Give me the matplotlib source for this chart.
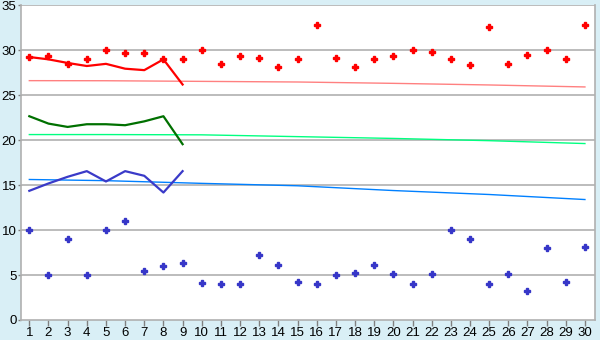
import matplotlib.pyplot as plt
import numpy as np

days = list(range(1, 31))

red_points = [29.26, 29.4, 28.5, 29.0, 30.07, 29.67, 29.74, 29.0, 29.0, 30.0,
              28.5, 29.4, 29.2, 28.2, 29.0, 32.85, 29.2, 28.2, 29.0, 29.4,
              30.0, 29.85, 29.0, 28.4, 32.6, 28.5, 29.5, 30.0, 29.0, 32.85]
blue_points = [10.0, 5.0, 9.0, 5.0, 10.0, 11.0, 5.4, 6.0, 6.3, 4.07,
               3.96, 3.96, 7.19, 6.07, 4.19, 3.96, 5.0, 5.19, 6.07, 5.07,
               3.96, 5.07, 10.0, 9.0, 3.96, 5.07, 3.19, 7.96, 4.19, 8.07]

line_days = list(range(1, 10))
red_line = [29.26, 29.0, 28.6, 28.26, 28.5, 27.96, 27.8, 29.0, 26.2]
green_line = [22.67, 21.85, 21.48, 21.78, 21.78, 21.67, 22.1, 22.67, 19.56]
blue_line = [14.37, 15.19, 15.93, 16.56, 15.41, 16.56, 16.04, 14.18, 16.56]

trend_days = [1, 5, 10, 15, 20, 25, 30]
red_trend = [26.63, 26.62, 26.55, 26.48, 26.33, 26.15, 25.93]
green_trend = [20.63, 20.63, 20.6, 20.4, 20.2, 19.95, 19.63]
blue_trend = [15.63, 15.5, 15.2, 14.93, 14.4, 13.96, 13.4]

bg = '#d9eff6'
grid = '#b0b0b0'

plt.rcParams['font.family'] = ['Liberation Sans', 'DejaVu Sans']

fig = plt.figure(figsize=(6, 3.4), dpi=100, facecolor=bg)
ax = fig.add_axes([0.0345, 0.059, 0.957, 0.925])
ax.set_facecolor('white')

for v in range(5, 36, 5):
    ax.axhline(v, color=grid, lw=1.2, zorder=1)

ax.plot(trend_days, red_trend, color='#ff8080', lw=1, zorder=2)
ax.plot(trend_days, green_trend, color='#00ff80', lw=1, zorder=2)
ax.plot(trend_days, blue_trend, color='#0080ff', lw=1, zorder=2)

ax.plot(line_days, red_line, color='#ff0000', lw=1.6, zorder=3)
ax.plot(line_days, green_line, color='#007000', lw=1.6, zorder=3)
ax.plot(line_days, blue_line, color='#3a3ac8', lw=1.6, zorder=3)

ax.plot(days, red_points, ls='none', marker='P', ms=4.5, color='#ff0000',
        mec='#ff0000', zorder=4)
ax.plot(days, blue_points, ls='none', marker='P', ms=4.5, color='#3636c8',
        mec='#3636c8', zorder=4)

ax.set_xlim(0.55, 30.52)
ax.set_ylim(0, 35)
ax.set_xticks(days)
ax.set_yticks(range(0, 36, 5))
ax.tick_params(axis='both', labelsize=9.5, color='#808080', width=1, pad=1)
ax.tick_params(axis='x', length=4)
ax.tick_params(axis='y', length=2)

for side in ['left', 'bottom', 'right']:
    ax.spines[side].set_color(grid)
    ax.spines[side].set_linewidth(1.2)
ax.spines['top'].set_visible(False)

fig.savefig('out.png', dpi=100, facecolor=bg)
